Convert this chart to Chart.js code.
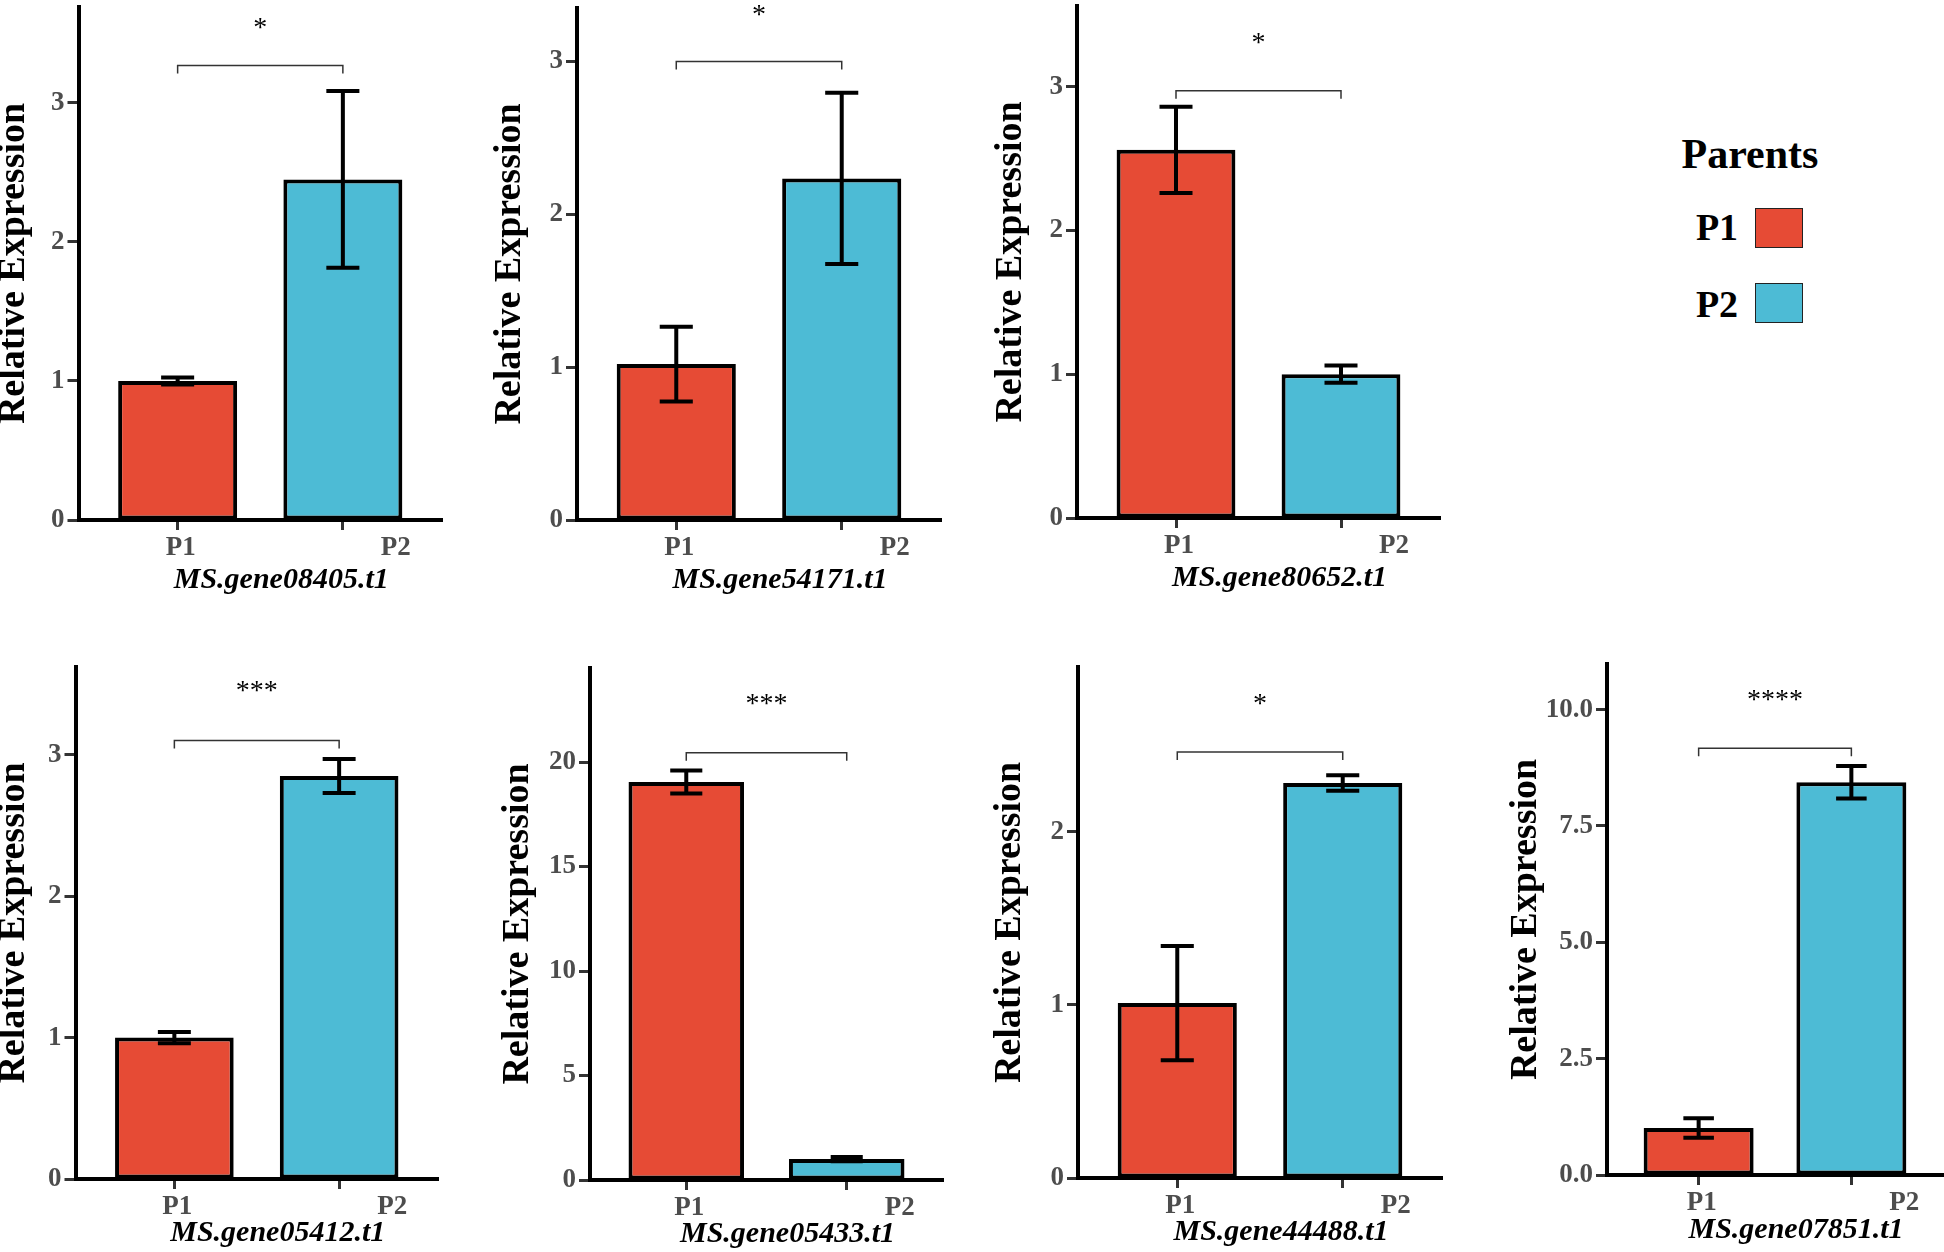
<!DOCTYPE html>
<html>
<head>
<meta charset="utf-8">
<script src="https://cdn.jsdelivr.net/npm/chart.js@4.4.0/dist/chart.umd.min.js"></script>
<style>
  body { margin: 0; background: #fff; width: 1944px; height: 1252px; position: relative; overflow: hidden; font-family: 'Liberation Serif', serif; }
  canvas { position: absolute; }
  .lg-text { position: absolute; font-weight: bold; line-height: 1; transform: translate(-50%, -50%); color: #000; white-space: nowrap; }
  .swatch { position: absolute; width: 48px; height: 40px; border: 1.5px solid #222; box-sizing: border-box; }
</style>
</head>
<body>
<div class="lg-text" style="left:1750px; top:154px; font-size:42px;">Parents</div>
<script>
const genes = ['MS.gene08405.t1', 'MS.gene54171.t1', 'MS.gene80652.t1', 'MS.gene05412.t1', 'MS.gene05433.t1', 'MS.gene44488.t1', 'MS.gene07851.t1'];
const parents = ['P1', 'P2'];
const parentColors = ['#E64B35', '#4DBBD5'];

const p1Mean = [1.00, 1.02, 2.56, 1.00, 19.05, 1.01, 1.01];
const p1Err  = [0.025, 0.245, 0.30, 0.04, 0.55, 0.33, 0.21];
const p2Mean = [2.45, 2.235, 1.00, 2.85, 1.00, 2.28, 8.44];
const p2Err  = [0.635, 0.56, 0.06, 0.12, 0.10, 0.045, 0.35];

const signif   = ['*', '*', '*', '***', '***', '*', '****'];
const bracketY = [3.27, 3.0, 2.97, 3.10, 20.45, 2.46, 9.17];
const starY    = [3.58, 3.34, 3.34, 3.49, 23.05, 2.77, 10.32];

const yMax = [3.69, 3.35, 3.56, 3.62, 24.5, 2.95, 10.98];
const yTicks = [[0, 1, 2, 3], [0, 1, 2, 3], [0, 1, 2, 3], [0, 1, 2, 3], [0, 5, 10, 15, 20], [0, 1, 2], [0, 2.5, 5, 7.5, 10]];
const yTickLabels = [['0', '1', '2', '3'], ['0', '1', '2', '3'], ['0', '1', '2', '3'], ['0', '1', '2', '3'],
                     ['0', '5', '10', '15', '20'], ['0', '1', '2'], ['0.0', '2.5', '5.0', '7.5', '10.0']];

// panel frame in page px: y axis x, axis top, zero line y, axis right end, y title centre x, gene name drop
const frames = [
  [78, 7, 520, 442, 17.5, 60],
  [577, 8, 520, 941, 514, 60],
  [1077, 6, 518, 1440, 1015, 60],
  [75, 667, 1179, 438, 17.5, 54],
  [590, 668, 1180, 943, 522, 54],
  [1078, 667, 1178, 1442, 1014, 54],
  [1607, 664, 1175, 1943, 1530, 55]
];

const serif = "'Liberation Serif', 'Times New Roman', serif";
const tickGrey = '#4d4d4d';

// legend entries
parents.forEach((p, k) => {
  const t = document.createElement('div');
  t.className = 'lg-text';
  t.style.cssText = `left:1717px; top:${227 + k * 77}px; font-size:38px;`;
  t.textContent = p;
  document.body.appendChild(t);
  const s = document.createElement('div');
  s.className = 'swatch';
  s.style.cssText = `left:1755px; top:${208 + k * 75}px; background:${parentColors[k]};`;
  document.body.appendChild(s);
});

function makePanel(i) {
  const [axisX, axisTop, zeroY, axisRight, titleX, nameDrop] = frames[i];
  const left = titleX - 23, top = axisTop - 20;
  const width = axisRight - left + 2, height = zeroY + 85 - top;

  const canvas = document.createElement('canvas');
  canvas.width = width;
  canvas.height = height;
  canvas.style.left = left + 'px';
  canvas.style.top = top + 'px';
  document.body.appendChild(canvas);

  const means = [p1Mean[i], p2Mean[i]];
  const errs = [p1Err[i], p2Err[i]];

  const annotate = {
    id: 'annotate',
    afterDatasetsDraw(chart) {
      const ctx = chart.ctx, xs = chart.scales.x, ys = chart.scales.y;
      ctx.save();

      // error bars
      ctx.strokeStyle = '#000';
      ctx.lineWidth = 4;
      ctx.lineCap = 'butt';
      means.forEach((m, k) => {
        const cx = xs.getPixelForValue(k + 1);
        const half = xs.getPixelForValue(k + 1.1) - cx;
        const yt = ys.getPixelForValue(m + errs[k]);
        const yb = ys.getPixelForValue(m - errs[k]);
        ctx.beginPath();
        ctx.moveTo(cx, yt); ctx.lineTo(cx, yb);
        ctx.moveTo(cx - half, yt); ctx.lineTo(cx + half, yt);
        ctx.moveTo(cx - half, yb); ctx.lineTo(cx + half, yb);
        ctx.stroke();
      });

      // significance bracket
      const bx1 = xs.getPixelForValue(1), bx2 = xs.getPixelForValue(2);
      const by = ys.getPixelForValue(bracketY[i]);
      ctx.lineWidth = 1.5;
      ctx.strokeStyle = '#333';
      ctx.beginPath();
      ctx.moveTo(bx1, by + 8); ctx.lineTo(bx1, by); ctx.lineTo(bx2, by); ctx.lineTo(bx2, by + 8);
      ctx.stroke();
      ctx.fillStyle = '#000';
      ctx.font = `28px ${serif}`;
      ctx.textAlign = 'center';
      ctx.textBaseline = 'middle';
      ctx.fillText(signif[i], (bx1 + bx2) / 2, ys.getPixelForValue(starY[i]) + 6);

      // x tick labels (P2 sits right of its tick in the original)
      const base = ys.getPixelForValue(0);
      ctx.fillStyle = tickGrey;
      ctx.font = `bold 27px ${serif}`;
      parents.forEach((p, k) => {
        ctx.fillText(p, xs.getPixelForValue(k + 1) + (k === 0 ? 3 : 53), base + 28);
      });

      // gene name
      ctx.fillStyle = '#000';
      ctx.font = `italic bold 30px ${serif}`;
      ctx.fillText(genes[i], xs.getPixelForValue(1.5) + 21, base + nameDrop);
      ctx.restore();
    }
  };

  new Chart(canvas, {
    type: 'bar',
    data: {
      datasets: [{
        data: parents.map((p, k) => ({ x: k + 1, y: means[k] })),
        backgroundColor: parentColors,
        borderColor: '#000',
        borderWidth: 4,
        borderSkipped: false,
        categoryPercentage: 1,
        barPercentage: 0.72
      }]
    },
    options: {
      responsive: false,
      animation: false,
      layout: { padding: { top: 20, right: 2, left: 0, bottom: 0 } },
      plugins: { legend: { display: false }, tooltip: { enabled: false } },
      scales: {
        x: {
          type: 'linear',
          min: 0.4,
          max: 2.6,
          offset: false,
          afterBuildTicks: s => { s.ticks = parents.map((p, k) => ({ value: k + 1 })); },
          afterFit: s => { s.height = 85; },
          ticks: { display: false },
          grid: { display: true, offset: false, drawOnChartArea: false, drawTicks: true, tickLength: 10, tickWidth: 3, tickColor: '#333' },
          border: { display: true, width: 4, color: '#000' }
        },
        y: {
          type: 'linear',
          min: 0,
          max: yMax[i],
          afterBuildTicks: s => { s.ticks = yTicks[i].map(v => ({ value: v })); },
          afterFit: s => { s.width = axisX - left; },
          ticks: {
            callback: (v, idx) => yTickLabels[i][idx],
            font: { family: serif, size: 27, weight: 'bold' },
            color: tickGrey,
            padding: 3
          },
          grid: { display: true, drawOnChartArea: false, drawTicks: true, tickLength: 11, tickWidth: 3, tickColor: '#333' },
          border: { display: true, width: 4, color: '#000' },
          title: {
            display: true,
            text: 'Relative Expression',
            color: '#000',
            font: { family: serif, size: 38, weight: 'bold', lineHeight: 1 },
            padding: 0
          }
        }
      }
    },
    plugins: [annotate]
  });
}

genes.forEach((g, i) => makePanel(i));
</script>
</body>
</html>
